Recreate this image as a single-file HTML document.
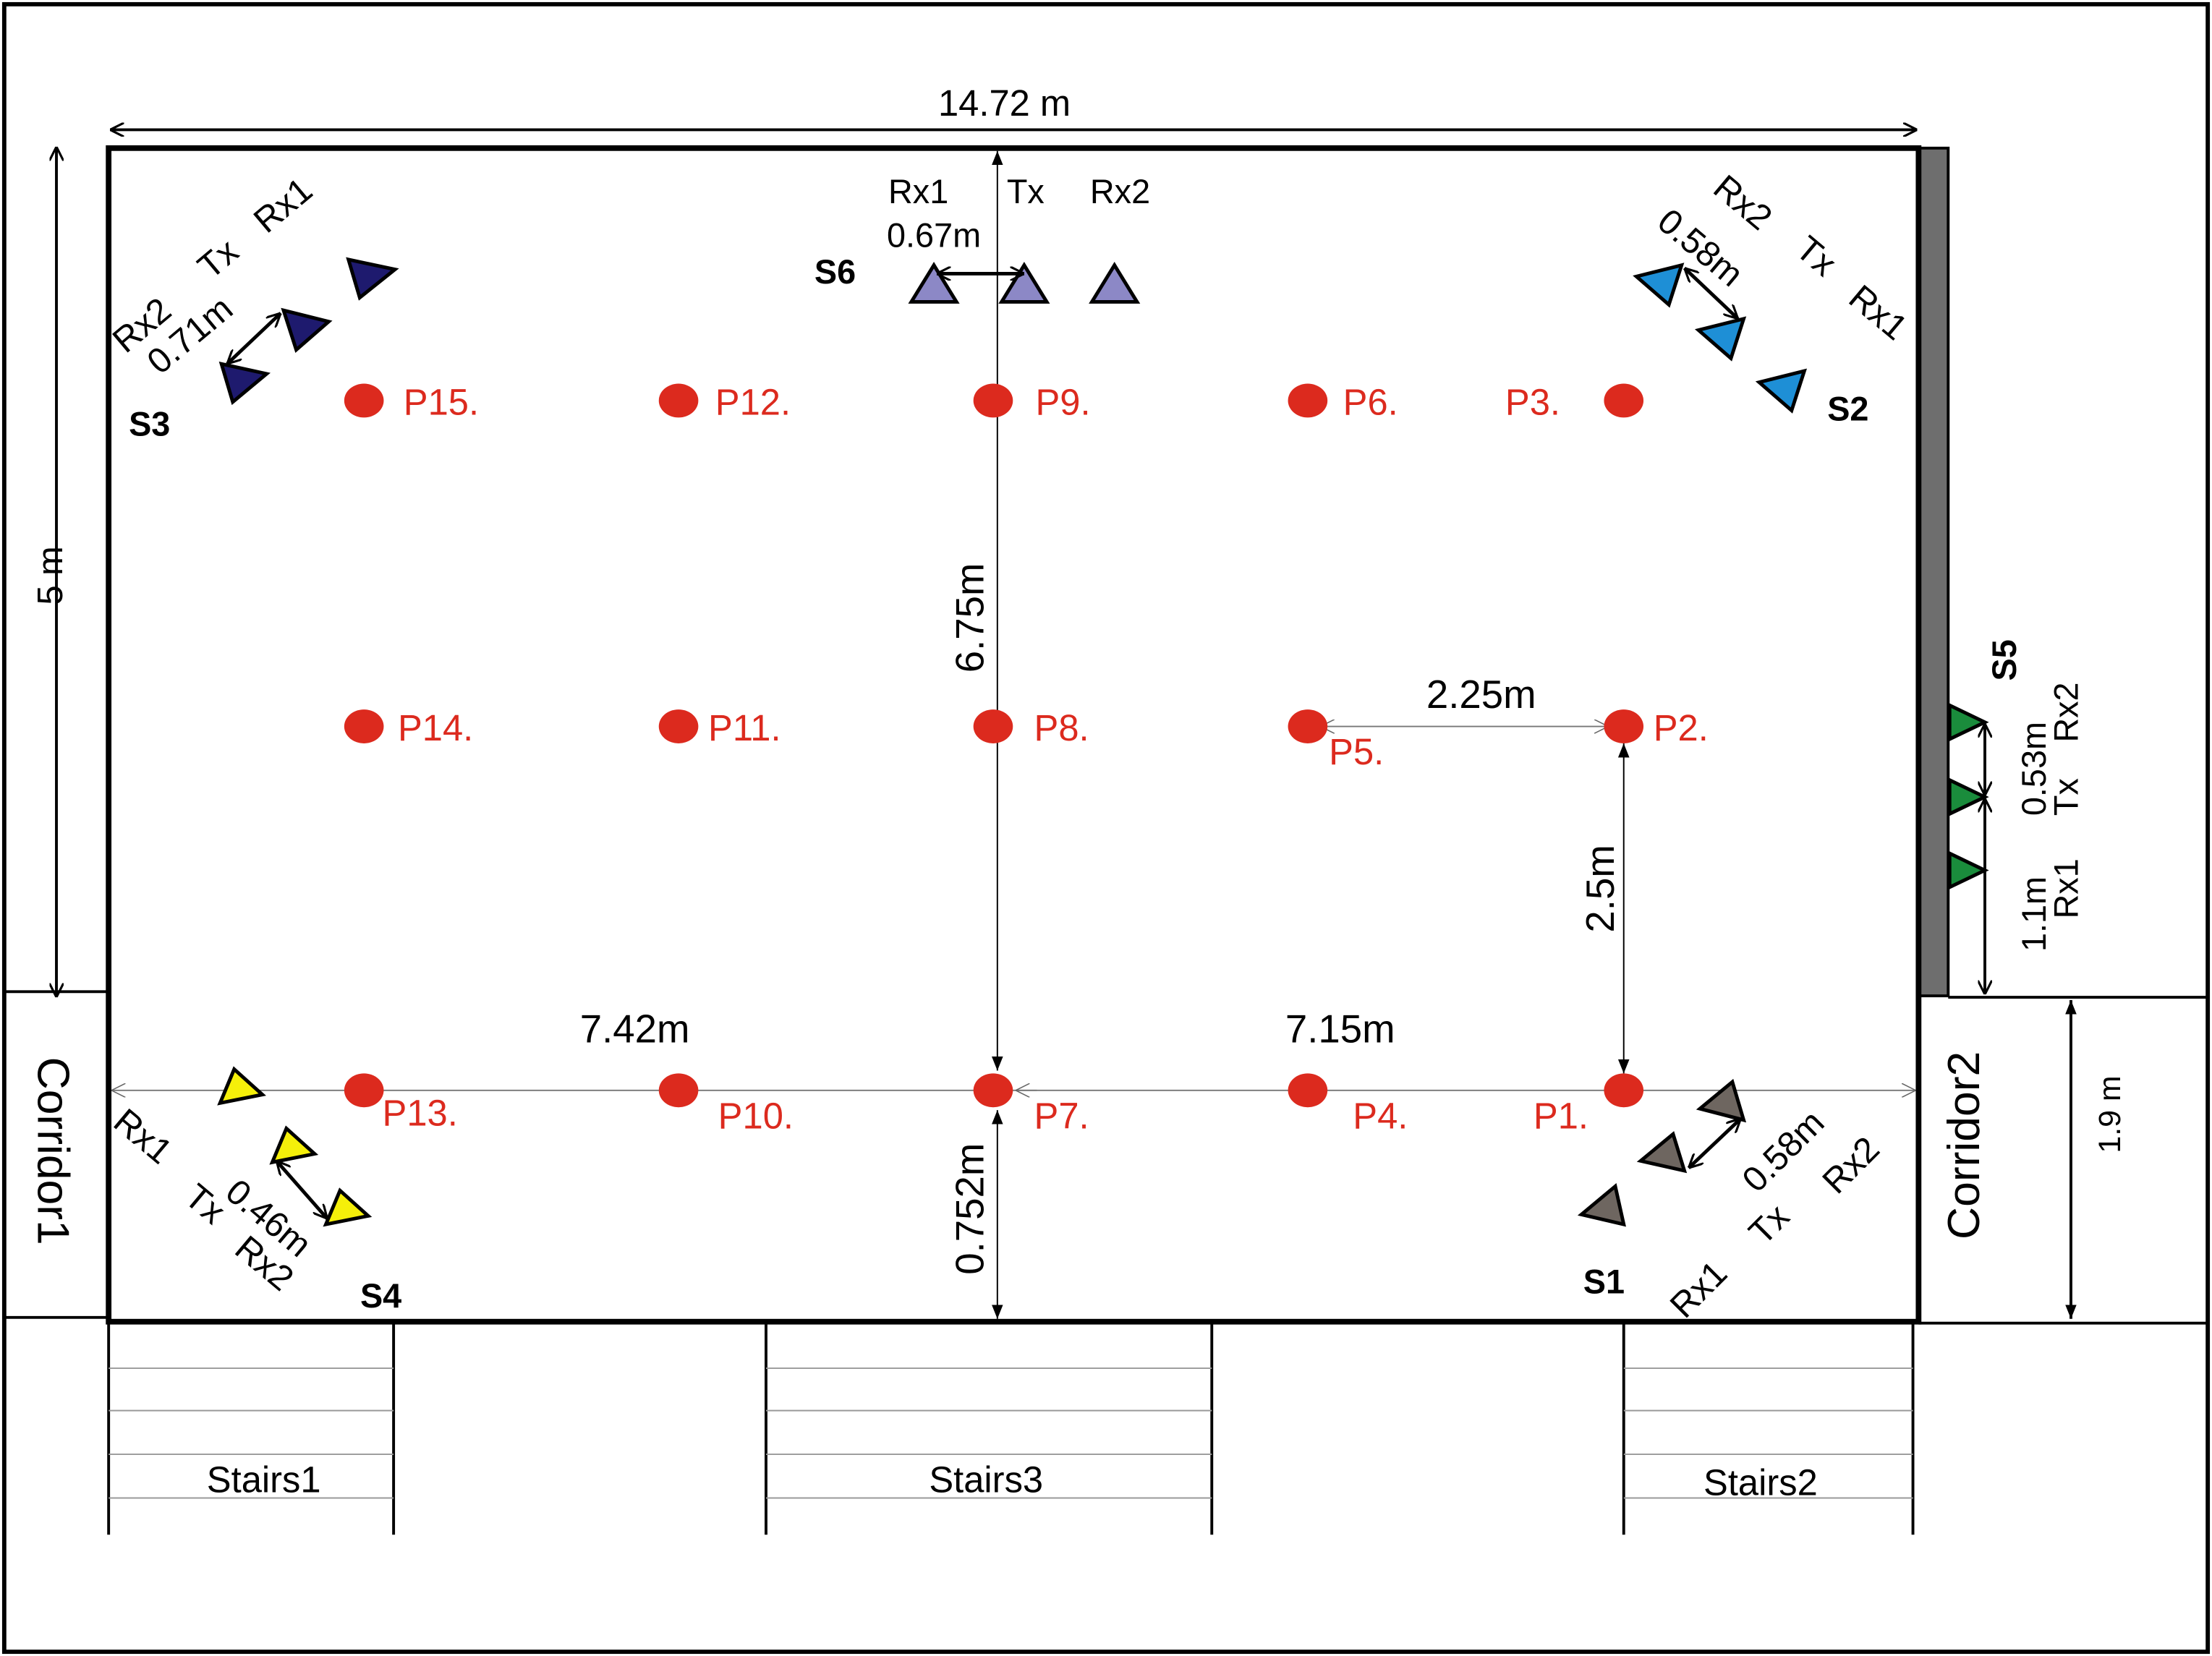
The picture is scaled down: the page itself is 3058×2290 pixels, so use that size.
<!DOCTYPE html>
<html><head><meta charset="utf-8"><style>html,body{margin:0;padding:0;background:#fff}svg{display:block}</style></head>
<body>
<svg width="3058" height="2290" viewBox="0 0 1568 1174" preserveAspectRatio="none" xmlns="http://www.w3.org/2000/svg" font-family="Liberation Sans, Arial, sans-serif">
<defs>
<marker id="a" viewBox="0 0 10 10" refX="10" refY="5" markerWidth="10" markerHeight="10" markerUnits="userSpaceOnUse" orient="auto-start-reverse"><path d="M0,0 L10,5 L0,10" fill="none" stroke="#000" stroke-width="1.6"/></marker>
<marker id="f" viewBox="0 0 10 10" refX="10" refY="5" markerWidth="10" markerHeight="10" markerUnits="userSpaceOnUse" orient="auto-start-reverse"><path d="M0,1 L10,5 L0,9z" fill="#000"/></marker>
<marker id="g" viewBox="0 0 10 10" refX="10" refY="5" markerWidth="10" markerHeight="10" markerUnits="userSpaceOnUse" orient="auto-start-reverse"><path d="M0,0 L10,5 L0,10" fill="none" stroke="#666" stroke-width="0.8"/></marker>
</defs>
<rect x="3" y="3" width="1562" height="1168" fill="#fff" stroke="#000" stroke-width="3"/>
<rect x="1360" y="105" width="21" height="601" fill="#6e6e6e" stroke="#000" stroke-width="2"/>
<line x1="3" y1="703" x2="77" y2="703" stroke="#000" stroke-width="2"/>
<line x1="3" y1="934" x2="77" y2="934" stroke="#000" stroke-width="2"/>
<line x1="1381" y1="707" x2="1565" y2="707" stroke="#000" stroke-width="2"/>
<line x1="1360" y1="938" x2="1565" y2="938" stroke="#000" stroke-width="2"/>
<text transform="translate(27,816) rotate(90)" font-size="32" text-anchor="middle">Corridor1</text>
<text transform="translate(1403,812) rotate(-90)" font-size="32" text-anchor="middle">Corridor2</text>
<line x1="1468" y1="709" x2="1468" y2="935" stroke="#000" stroke-width="2" marker-start="url(#f)" marker-end="url(#f)"/>
<text transform="translate(1503,790) rotate(-90)" font-size="22" text-anchor="middle">1.9 m</text>
<g stroke="#000" stroke-width="2">
<line x1="77" y1="937" x2="77" y2="1088"/><line x1="279" y1="937" x2="279" y2="1088"/>
<line x1="543" y1="937" x2="543" y2="1088"/><line x1="859" y1="937" x2="859" y2="1088"/>
<line x1="1151" y1="937" x2="1151" y2="1088"/><line x1="1356" y1="937" x2="1356" y2="1088"/>
</g>
<g stroke="#999" stroke-width="1">
<line x1="77" y1="970" x2="279" y2="970"/><line x1="77" y1="1000" x2="279" y2="1000"/><line x1="77" y1="1031" x2="279" y2="1031"/><line x1="77" y1="1062" x2="279" y2="1062"/>
<line x1="543" y1="970" x2="859" y2="970"/><line x1="543" y1="1000" x2="859" y2="1000"/><line x1="543" y1="1031" x2="859" y2="1031"/><line x1="543" y1="1062" x2="859" y2="1062"/>
<line x1="1151" y1="970" x2="1356" y2="970"/><line x1="1151" y1="1000" x2="1356" y2="1000"/><line x1="1151" y1="1031" x2="1356" y2="1031"/><line x1="1151" y1="1062" x2="1356" y2="1062"/>
</g>
<g font-size="26" text-anchor="middle">
<text x="187" y="1058">Stairs1</text><text x="699" y="1058">Stairs3</text><text x="1248" y="1060">Stairs2</text>
</g>
<rect x="77" y="105" width="1283" height="832" fill="none" stroke="#000" stroke-width="4"/>
<line x1="78" y1="92" x2="1359" y2="92" stroke="#000" stroke-width="2" marker-start="url(#a)" marker-end="url(#a)"/>
<text x="712" y="82" font-size="26" text-anchor="middle">14.72 m</text>
<line x1="40" y1="104" x2="40" y2="707" stroke="#000" stroke-width="2" marker-start="url(#a)" marker-end="url(#a)"/>
<text transform="translate(44,408) rotate(-90)" font-size="25" text-anchor="middle">5 m</text>
<line x1="707" y1="107" x2="707" y2="759" stroke="#000" stroke-width="1" marker-start="url(#f)" marker-end="url(#f)"/>
<line x1="707" y1="787" x2="707" y2="935" stroke="#000" stroke-width="1" marker-start="url(#f)" marker-end="url(#f)"/>
<text transform="translate(697,438) rotate(-90)" font-size="28" text-anchor="middle">6.75m</text>
<text transform="translate(697,857) rotate(-90)" font-size="28" text-anchor="middle">0.752m</text>
<line x1="79" y1="773" x2="1358" y2="773" stroke="#777" stroke-width="1" marker-start="url(#g)" marker-end="url(#g)"/>
<line x1="720" y1="773" x2="735" y2="773" stroke="#777" stroke-width="1" marker-start="url(#g)"/>
<text x="450" y="739" font-size="28" text-anchor="middle">7.42m</text>
<text x="950" y="739" font-size="28" text-anchor="middle">7.15m</text>
<line x1="936" y1="515" x2="1140" y2="515" stroke="#777" stroke-width="1" marker-start="url(#g)" marker-end="url(#g)"/>
<text x="1050" y="502" font-size="28" text-anchor="middle">2.25m</text>
<line x1="1151" y1="527" x2="1151" y2="761" stroke="#000" stroke-width="1" marker-start="url(#f)" marker-end="url(#f)"/>
<text transform="translate(1144,630) rotate(-90)" font-size="28" text-anchor="middle">2.5m</text>
<g fill="#dc2a1e">
<ellipse cx="258" cy="284" rx="14" ry="12"/><ellipse cx="481" cy="284" rx="14" ry="12"/><ellipse cx="704" cy="284" rx="14" ry="12"/><ellipse cx="927" cy="284" rx="14" ry="12"/><ellipse cx="1151" cy="284" rx="14" ry="12"/>
<ellipse cx="258" cy="515" rx="14" ry="12"/><ellipse cx="481" cy="515" rx="14" ry="12"/><ellipse cx="704" cy="515" rx="14" ry="12"/><ellipse cx="927" cy="515" rx="14" ry="12"/><ellipse cx="1151" cy="515" rx="14" ry="12"/>
<ellipse cx="258" cy="773" rx="14" ry="12"/><ellipse cx="481" cy="773" rx="14" ry="12"/><ellipse cx="704" cy="773" rx="14" ry="12"/><ellipse cx="927" cy="773" rx="14" ry="12"/><ellipse cx="1151" cy="773" rx="14" ry="12"/>
</g>
<g fill="#dc2a1e" font-size="26">
<text x="286" y="294">P15.</text><text x="507" y="294">P12.</text><text x="734" y="294">P9.</text><text x="952" y="294">P6.</text><text x="1067" y="294">P3.</text>
<text x="282" y="525">P14.</text><text x="502" y="525">P11.</text><text x="733" y="525">P8.</text><text x="942" y="542">P5.</text><text x="1172" y="525">P2.</text>
<text x="271" y="798">P13.</text><text x="509" y="800">P10.</text><text x="733" y="800">P7.</text><text x="959" y="800">P4.</text><text x="1087" y="800">P1.</text>
</g>
<g fill="#8c88c6" stroke="#000" stroke-width="2.5">
<polygon points="662,188 678,214 646,214"/><polygon points="726,188 742,214 710,214"/><polygon points="790,188 806,214 774,214"/>
</g>
<line x1="664" y1="194" x2="726" y2="194" stroke="#000" stroke-width="2.5" marker-start="url(#a)" marker-end="url(#a)"/>
<g font-size="24" text-anchor="middle">
<text x="651" y="144">Rx1</text><text x="727" y="144">Tx</text><text x="794" y="144">Rx2</text><text x="662" y="175">0.67m</text>
</g>
<text x="592" y="201" font-size="24" font-weight="bold" text-anchor="middle">S6</text>
<g fill="#1e1a6e" stroke="#000" stroke-width="2.5">
<polygon points="247,184 280,191 255,211"/><polygon points="201,220 233,228 210,248"/><polygon points="157,258 189,265 165,285"/>
</g>
<line x1="161" y1="258" x2="199" y2="222" stroke="#000" stroke-width="2.5" marker-start="url(#a)" marker-end="url(#a)"/>
<g font-size="25" text-anchor="middle">
<text transform="translate(106,237) rotate(-40)">Rx2</text>
<text transform="translate(160,190) rotate(-40)">Tx</text>
<text transform="translate(206,152) rotate(-40)">Rx1</text>
<text transform="translate(140,244) rotate(-40)">0.71m</text>
</g>
<text x="106" y="309" font-size="24" font-weight="bold" text-anchor="middle">S3</text>
<g fill="#1e8fd6" stroke="#000" stroke-width="2.5">
<polygon points="1192,188 1160,196 1183,216"/><polygon points="1236,226 1204,234 1227,254"/><polygon points="1279,263 1247,271 1270,291"/>
</g>
<line x1="1194" y1="190" x2="1232" y2="226" stroke="#000" stroke-width="2.5" marker-start="url(#a)" marker-end="url(#a)"/>
<g font-size="25" text-anchor="middle">
<text transform="translate(1230,150) rotate(40)">Rx2</text>
<text transform="translate(1282,188) rotate(40)">Tx</text>
<text transform="translate(1326,228) rotate(40)">Rx1</text>
<text transform="translate(1200,182) rotate(40)">0.58m</text>
</g>
<text x="1310" y="298" font-size="24" font-weight="bold" text-anchor="middle">S2</text>
<g fill="#1a8c3c" stroke="#000" stroke-width="2.5">
<polygon points="1382,500 1407,512 1382,524"/><polygon points="1382,553 1407,565 1382,577"/><polygon points="1382,605 1407,617 1382,629"/>
</g>
<line x1="1407" y1="513" x2="1407" y2="564" stroke="#000" stroke-width="2" marker-start="url(#a)" marker-end="url(#a)"/>
<line x1="1407" y1="566" x2="1407" y2="705" stroke="#000" stroke-width="2" marker-start="url(#a)" marker-end="url(#a)"/>
<g font-size="24" text-anchor="middle">
<text transform="translate(1450,545) rotate(-90)">0.53m</text>
<text transform="translate(1473,505) rotate(-90)">Rx2</text>
<text transform="translate(1473,565) rotate(-90)">Tx</text>
<text transform="translate(1473,630) rotate(-90)">Rx1</text>
<text transform="translate(1450,648) rotate(-90)">1.1m</text>
</g>
<text transform="translate(1429,468) rotate(-90)" font-size="24" font-weight="bold" text-anchor="middle">S5</text>
<g fill="#f5ef0a" stroke="#000" stroke-width="2.5">
<polygon points="166,758 186,776 156,782"/><polygon points="203,800 223,818 193,824"/><polygon points="241,844 261,862 231,868"/>
</g>
<line x1="196" y1="823" x2="232" y2="864" stroke="#000" stroke-width="2.5" marker-start="url(#a)" marker-end="url(#a)"/>
<g font-size="25" text-anchor="middle">
<text transform="translate(96,812) rotate(40)">Rx1</text>
<text transform="translate(140,860) rotate(40)">Tx</text>
<text transform="translate(182,902) rotate(40)">Rx2</text>
<text transform="translate(185,870) rotate(40)">0.46m</text>
</g>
<text x="270" y="927" font-size="24" font-weight="bold" text-anchor="middle">S4</text>
<g fill="#6e6660" stroke="#000" stroke-width="2.5">
<polygon points="1228,767 1205,786 1236,794"/><polygon points="1186,804 1163,823 1194,830"/><polygon points="1145,841 1121,861 1151,868"/>
</g>
<line x1="1197" y1="828" x2="1234" y2="793" stroke="#000" stroke-width="2.5" marker-start="url(#a)" marker-end="url(#a)"/>
<g font-size="25" text-anchor="middle">
<text transform="translate(1210,920) rotate(-45)">Rx1</text>
<text transform="translate(1260,874) rotate(-45)">Tx</text>
<text transform="translate(1318,832) rotate(-45)">Rx2</text>
<text transform="translate(1270,822) rotate(-45)">0.58m</text>
</g>
<text x="1137" y="917" font-size="24" font-weight="bold" text-anchor="middle">S1</text>
</svg>
</body></html>
